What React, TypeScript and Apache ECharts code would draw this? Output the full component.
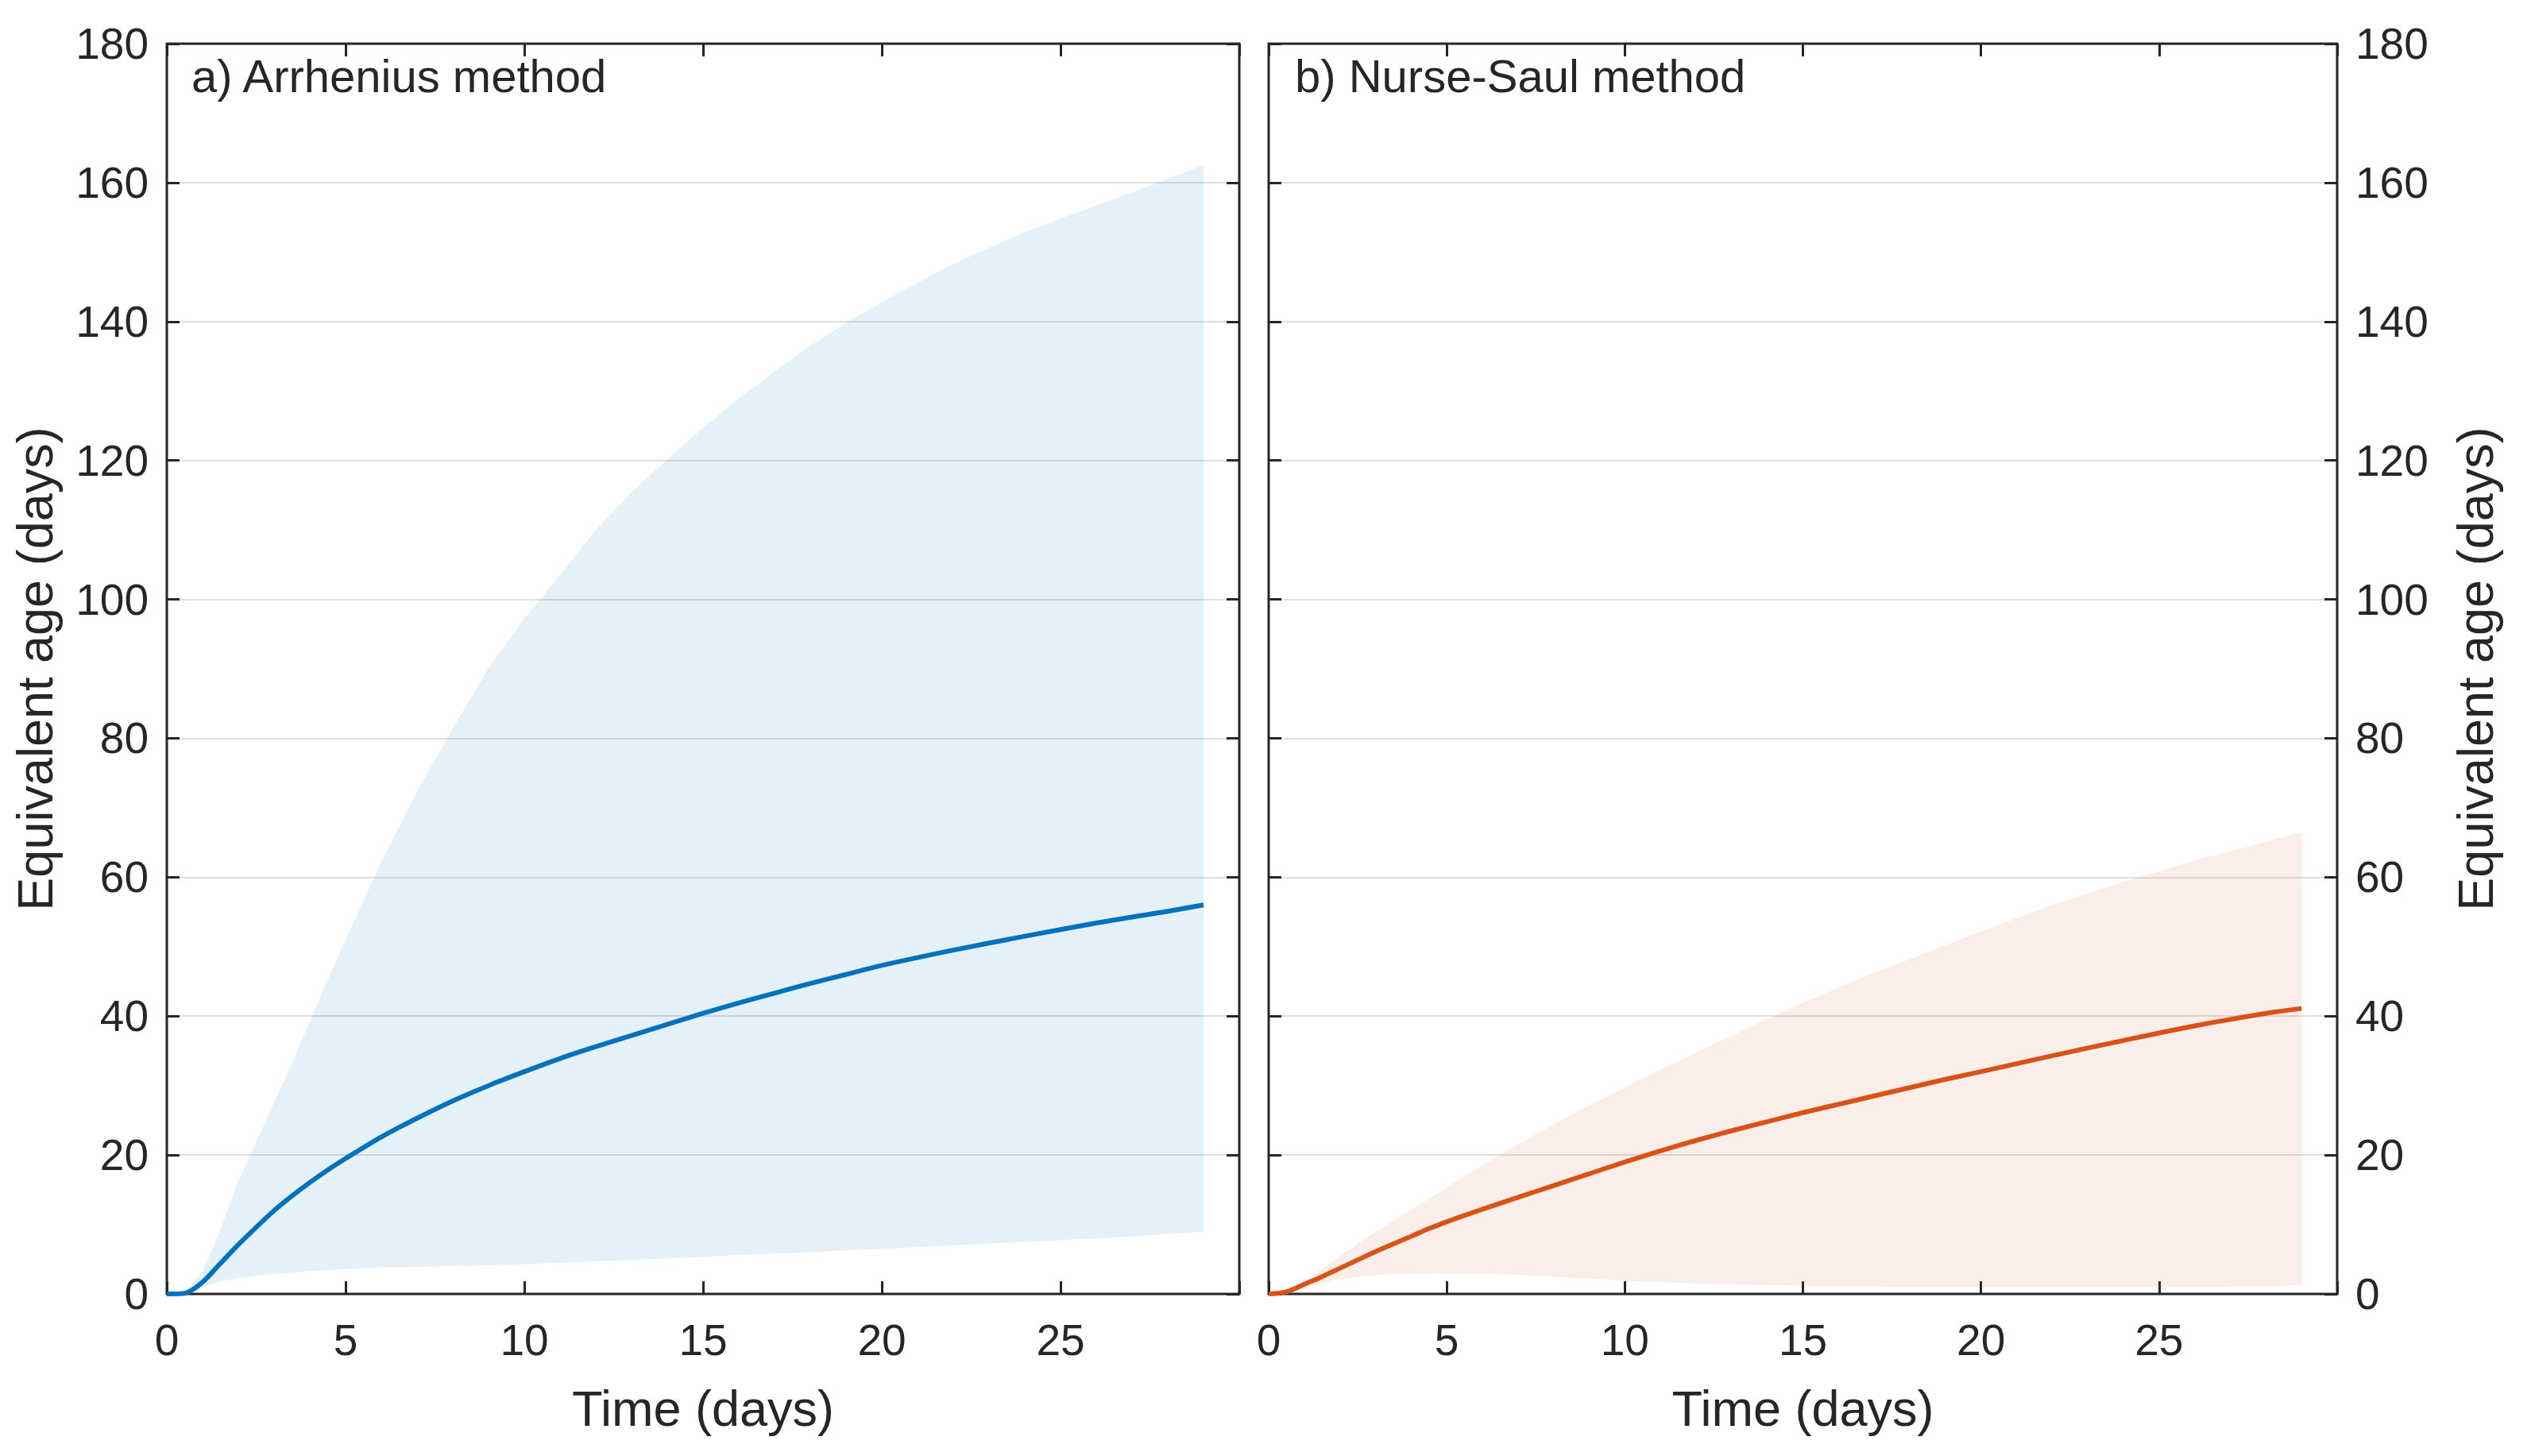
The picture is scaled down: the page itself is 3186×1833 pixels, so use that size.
import React, { useEffect, useRef } from "react";
import * as echarts from "echarts";

// Time (days) sample points shared by all curves
const TIME = [0, 0.5, 1, 1.5, 2, 2.5, 3, 3.5, 4, 4.5, 5, 6, 7, 8, 9, 10, 11, 12, 13, 14, 15, 16, 17, 18, 19, 20, 22, 24, 26, 28, 29];

// a) Arrhenius method
const ARR_MEAN = [0, 0.1, 1.7, 4.4, 7.1, 9.6, 12.0, 14.1, 16.05, 17.85, 19.5, 22.6, 25.3, 27.8, 30.0, 32.0, 33.9, 35.6, 37.2, 38.8, 40.4, 41.9, 43.3, 44.7, 46.0, 47.3, 49.5, 51.5, 53.4, 55.1, 56.0];
const ARR_LOWER = [0, 0.1, 0.9, 1.8, 2.3, 2.6, 2.9, 3.1, 3.3, 3.45, 3.6, 3.8, 3.9, 4.0, 4.15, 4.3, 4.5, 4.7, 4.9, 5.1, 5.35, 5.6, 5.8, 6.0, 6.25, 6.5, 7.0, 7.5, 8.0, 8.6, 9.0];
const ARR_UPPER = [0, 0.3, 3.2, 9.2, 16.3, 21.8, 27.6, 33.2, 39.2, 45.2, 51.0, 62.3, 72.3, 81.4, 90.1, 97.2, 103.5, 110.0, 115.4, 120.2, 124.7, 128.9, 132.8, 136.5, 139.8, 142.8, 148.3, 152.9, 156.7, 160.5, 162.5];

// b) Nurse-Saul method
const NS_MEAN = [0, 0.3, 1.4, 2.5, 3.7, 4.9, 6.1, 7.2, 8.3, 9.4, 10.4, 12.2, 13.9, 15.6, 17.3, 19.0, 20.6, 22.1, 23.5, 24.8, 26.1, 27.3, 28.5, 29.7, 30.9, 32.0, 34.3, 36.5, 38.6, 40.4, 41.1];
const NS_LOWER = [0, 0.2, 0.8, 1.6, 2.1, 2.5, 2.7, 2.85, 2.9, 2.95, 2.95, 2.9, 2.75, 2.5, 2.2, 1.9, 1.7, 1.5, 1.4, 1.3, 1.2, 1.1, 1.05, 1.0, 1.0, 1.0, 1.0, 1.0, 1.0, 1.1, 1.3];
const NS_UPPER = [0, 0.6, 1.8, 3.6, 5.4, 7.2, 8.9, 10.5, 12.1, 13.7, 15.3, 18.5, 21.5, 24.4, 27.1, 29.7, 32.3, 34.7, 37.2, 39.6, 41.9, 44.1, 46.2, 48.2, 50.2, 52.2, 56.0, 59.3, 62.4, 65.1, 66.5];

const X_MIN = 0;
const X_MAX = 30;
const X_STEP = 5;
const Y_MIN = 0;
const Y_MAX = 180;
const Y_STEP = 20;

const PANEL_TITLES = ["a) Arrhenius method", "b) Nurse-Saul method"];
const X_NAME = "Time (days)";
const Y_NAME = "Equivalent age (days)";

const FONT = "'Liberation Sans', Arial, Helvetica, sans-serif";
const INK = "#262626";
const BLUE = "#0072BD";
const ORANGE = "#D95319";
const TICK_LEN = 16;

const tickStyle = { show: true, inside: true, length: TICK_LEN, lineStyle: { color: INK, width: 3 } };
const noLine = { show: false, onZero: false };

function xAxisFor(gridIndex: number, position: string, withLabels: boolean) {
  return {
    type: "value",
    gridIndex,
    position,
    min: X_MIN,
    max: X_MAX,
    interval: X_STEP,
    axisLine: noLine,
    axisTick: tickStyle,
    splitLine: { show: false },
    axisLabel: withLabels
      ? {
          show: true,
          fontSize: 55,
          color: INK,
          fontFamily: FONT,
          margin: 30,
          formatter: (v: number) => (v === X_MAX ? "" : String(v)),
        }
      : { show: false },
    name: withLabels ? X_NAME : "",
    nameLocation: "middle",
    nameGap: 112,
    nameTextStyle: { fontSize: 63, color: INK, fontFamily: FONT },
  };
}

function yAxisFor(gridIndex: number, position: string, withLabels: boolean) {
  return {
    type: "value",
    gridIndex,
    position,
    min: Y_MIN,
    max: Y_MAX,
    interval: Y_STEP,
    axisLine: noLine,
    axisTick: tickStyle,
    splitLine: withLabels
      ? { show: true, lineStyle: { color: "rgba(38,38,38,0.15)", width: 2 } }
      : { show: false },
    axisLabel: withLabels
      ? { show: true, fontSize: 55, color: INK, fontFamily: FONT, margin: 23 }
      : { show: false },
    name: withLabels ? Y_NAME : "",
    nameLocation: "middle",
    nameRotate: 90,
    nameGap: position === "left" ? 135 : 142,
    nameTextStyle: { fontSize: 63, color: INK, fontFamily: FONT },
  };
}

function bandSeries(axisIndex: number, lower: number[], upper: number[], fill: string) {
  return {
    type: "custom",
    xAxisIndex: axisIndex,
    yAxisIndex: axisIndex,
    data: TIME.map((t, i) => [t, lower[i], upper[i]]),
    encode: { x: 0, y: [1, 2] },
    silent: true,
    z: 1,
    renderItem: (params: any, api: any) => {
      if (params.dataIndex !== 0) return null;
      const top = TIME.map((t, i) => api.coord([t, upper[i]]));
      const bottom = TIME.map((t, i) => api.coord([t, lower[i]])).reverse();
      return {
        type: "polygon",
        shape: { points: top.concat(bottom) },
        style: { fill, stroke: "none" },
        silent: true,
      };
    },
  };
}

function meanSeries(axisIndex: number, values: number[], color: string) {
  return {
    type: "line",
    xAxisIndex: axisIndex,
    yAxisIndex: axisIndex,
    data: TIME.map((t, i) => [t, values[i]]),
    symbol: "none",
    smooth: 0.3,
    lineStyle: { color, width: 6 },
    silent: true,
    z: 3,
  };
}

export default function App() {
  const ref = useRef<HTMLDivElement>(null);

  useEffect(() => {
    if (!ref.current) return;
    const chart = echarts.init(ref.current, null, { renderer: "svg" });
    const gridBase = { show: true, borderColor: INK, borderWidth: 3, backgroundColor: "transparent", containLabel: false };
    chart.setOption({
      animation: false,
      backgroundColor: "#ffffff",
      grid: [
        { ...gridBase, left: 210, top: 55, width: 1350, height: 1574 },
        { ...gridBase, left: 1597, top: 55, width: 1345, height: 1574 },
      ],
      // 0,1: labelled axes used by the series; 2,3: opposite-side tick-only axes
      xAxis: [
        xAxisFor(0, "bottom", true),
        xAxisFor(1, "bottom", true),
        xAxisFor(0, "top", false),
        xAxisFor(1, "top", false),
      ],
      yAxis: [
        yAxisFor(0, "left", true),
        yAxisFor(1, "right", true),
        yAxisFor(0, "right", false),
        yAxisFor(1, "left", false),
      ],
      series: [
        bandSeries(0, ARR_LOWER, ARR_UPPER, "rgba(0,114,189,0.1)"),
        meanSeries(0, ARR_MEAN, BLUE),
        bandSeries(1, NS_LOWER, NS_UPPER, "rgba(217,83,25,0.1)"),
        meanSeries(1, NS_MEAN, ORANGE),
      ],
      graphic: [
        {
          type: "text",
          x: 241,
          y: 95,
          z: 10,
          style: { text: PANEL_TITLES[0], fontSize: 58, fontFamily: FONT, fill: INK, verticalAlign: "middle", align: "left" },
        },
        {
          type: "text",
          x: 1630,
          y: 95,
          z: 10,
          style: { text: PANEL_TITLES[1], fontSize: 58, fontFamily: FONT, fill: INK, verticalAlign: "middle", align: "left" },
        },
      ],
    });
    return () => chart.dispose();
  }, []);

  return (
    <div
      ref={ref}
      style={{ position: "fixed", left: 0, top: 0, width: 3186, height: 1833, background: "#ffffff" }}
    />
  );
}
